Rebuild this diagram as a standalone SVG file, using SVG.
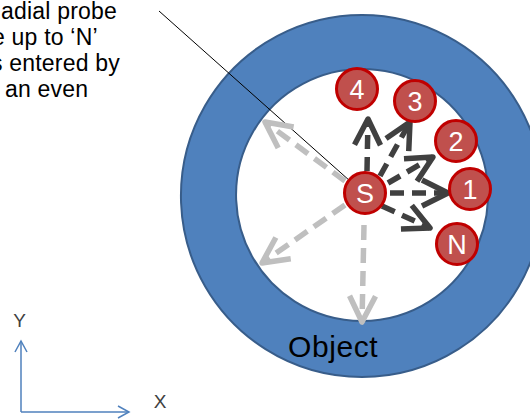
<svg xmlns="http://www.w3.org/2000/svg" width="530" height="419" viewBox="0 0 530 419">
  <style>
    .lbl { font-family: "Liberation Sans", Arial, sans-serif; fill: #000; }
    .note { font-size: 23px; letter-spacing: 0.2px; }
    .num { font-family: "Liberation Sans", Arial, sans-serif; font-size: 27px; fill: #fff; text-anchor: middle; }
    .probe { fill: #C0504D; stroke: #C00000; stroke-width: 3; }
    .dark { fill: none; stroke: #404040; stroke-width: 5.5; stroke-dasharray: 14 8; marker-end: url(#hd); }
    .grey { fill: none; stroke: #BFBFBF; stroke-width: 5.5; stroke-dasharray: 15 8; marker-end: url(#hg); }
    .axis { fill: none; stroke: #4F81BD; stroke-width: 1.5; marker-end: url(#ha); }
    .axlbl { font-family: "Liberation Sans", Arial, sans-serif; font-size: 19px; fill: #404040; text-anchor: middle; }
  </style>
  <defs>
    <marker id="hd" markerUnits="userSpaceOnUse" markerWidth="40" markerHeight="36" refX="30" refY="16" orient="auto" overflow="visible">
      <path d="M4,3 L30,16 L4,29" fill="none" stroke="#404040" stroke-width="5.5" stroke-linejoin="round"/>
    </marker>
    <marker id="hg" markerUnits="userSpaceOnUse" markerWidth="40" markerHeight="36" refX="30" refY="16" orient="auto" overflow="visible">
      <path d="M4,3 L30,16 L4,29" fill="none" stroke="#BFBFBF" stroke-width="5.5" stroke-linejoin="round"/>
    </marker>
    <marker id="ha" markerUnits="userSpaceOnUse" markerWidth="16" markerHeight="16" refX="12" refY="7" orient="auto" overflow="visible">
      <path d="M1,1 L12,7 L1,13" fill="none" stroke="#4F81BD" stroke-width="1.5"/>
    </marker>
  </defs>

  <g id="object">
    <path d="M362,15 A181,181 0 1,1 361.9,15 Z M362,69 A126,126 0 1,0 362.1,69 Z" fill="#4F81BD" fill-rule="evenodd" stroke="#385D8A" stroke-width="2"/>
    <text class="lbl" x="288" y="357" font-size="30" letter-spacing="0.6">Object</text>
  </g>

  <g id="note">
    <text class="lbl note" x="1" y="19">adial probe</text>
    <text class="lbl note" x="-8" y="45">e up to ‘N’</text>
    <text class="lbl note" x="-9" y="71">s entered by</text>
    <text class="lbl note" x="5" y="97">an even</text>
  </g>

  <g id="connectors">
    <line x1="159" y1="11" x2="350" y2="181" stroke="#000" stroke-width="1"/>
    <path class="grey" d="M345,181 L265,122"/>
    <path class="grey" d="M345,205 L262,263"/>
    <path class="grey" d="M364,225 L362,322"/>
    <path class="dark" d="M367,171 L368,119"/>
    <path class="dark" d="M380,176 L410,122"/>
    <path class="dark" d="M388,183 L433,157"/>
    <path class="dark" d="M390,193 L448,193"/>
    <path class="dark" d="M382,206 L430,228"/>
  </g>

  <g id="probe-S"><circle class="probe" cx="365" cy="193" r="20.5"/><text class="num" x="365" y="203">S</text></g>
  <g id="probe-4"><circle class="probe" cx="357" cy="89" r="20.5"/><text class="num" x="357" y="99">4</text></g>
  <g id="probe-3"><circle class="probe" cx="415" cy="101" r="20.5"/><text class="num" x="415" y="111">3</text></g>
  <g id="probe-2"><circle class="probe" cx="456" cy="141" r="20.5"/><text class="num" x="456" y="151">2</text></g>
  <g id="probe-1"><circle class="probe" cx="470" cy="189" r="20.5"/><text class="num" x="470" y="199">1</text></g>
  <g id="probe-N"><circle class="probe" cx="457" cy="244" r="20.5"/><text class="num" x="457" y="254">N</text></g>

  <g id="axes">
    <path class="axis" d="M21,412 L21,341"/>
    <path class="axis" d="M21,412 L129,412"/>
    <text class="axlbl" x="19.5" y="327">Y</text>
    <text class="axlbl" x="160" y="408">X</text>
  </g>
</svg>
